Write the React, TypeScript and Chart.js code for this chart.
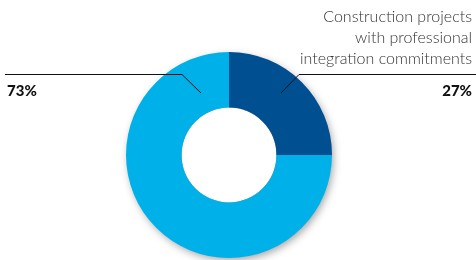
import React, { useEffect, useRef } from "react";
import { Chart, registerables } from "chart.js";

Chart.register(...registerables);

// Data
const categories = ["Construction projects with professional integration commitments", "Other construction projects"];
const sliceShares = [25, 75]; // shares as drawn in the picture
const percentLabels = ["27%", "73%"];
const calloutLines = ["Construction projects", "with professional", "integration commitments"];
const sliceColors = ["#004f91", "#00b1e9"];

const overlayPlugin = {
  id: "overlay",
  beforeDatasetsDraw(chart: any) {
    const meta = chart.getDatasetMeta(0);
    const arc = meta.data[0];
    if (!arc) return;
    const { x, y, outerRadius, innerRadius } = arc.getProps(["x", "y", "outerRadius", "innerRadius"], true);
    const ctx = chart.ctx;
    ctx.save();
    ctx.beginPath();
    ctx.rect(0, 0, chart.width, chart.height);
    ctx.arc(x, y, innerRadius, 0, Math.PI * 2);
    ctx.clip("evenodd");
    const off = 10000;
    ctx.shadowColor = "rgba(0,0,0,0.38)";
    ctx.shadowBlur = 8;
    ctx.shadowOffsetX = off + 2;
    ctx.shadowOffsetY = 3;
    ctx.fillStyle = "#000";
    ctx.beginPath();
    ctx.arc(x - off, y, outerRadius - 1, 0, Math.PI * 2);
    ctx.fill();
    ctx.restore();
  },
  afterDraw(chart: any) {
    const meta = chart.getDatasetMeta(0);
    const arc = meta.data[0];
    if (!arc) return;
    const { x, y } = arc.getProps(["x", "y"], true);
    const ctx = chart.ctx;
    const W = chart.width;
    ctx.save();
    // leader lines
    ctx.strokeStyle = "#111";
    ctx.lineWidth = 1;
    ctx.beginPath();
    ctx.moveTo(5, y - 80.5);
    ctx.lineTo(x - 47, y - 80.5);
    ctx.lineTo(x - 28, y - 62);
    ctx.stroke();
    ctx.beginPath();
    ctx.moveTo(W, y - 80.5);
    ctx.lineTo(x + 70, y - 80.5);
    ctx.lineTo(x + 52, y - 62);
    ctx.stroke();
    // percent labels
    ctx.fillStyle = "#111";
    ctx.font = "900 15px Lato, 'Open Sans', sans-serif";
    ctx.textBaseline = "alphabetic";
    ctx.textAlign = "left";
    ctx.fillText(percentLabels[1], 7, 95.5);
    ctx.textAlign = "right";
    ctx.fillText(percentLabels[0], W - 4, 95.5);
    // callout text
    ctx.fillStyle = "#333";
    ctx.font = "300 16px Lato, 'Open Sans', sans-serif";
    calloutLines.forEach((t, i) => {
      ctx.fillText(t, W - 4, 22 + i * 21);
    });
    ctx.restore();
  },
};

export default function App() {
  const ref = useRef<HTMLCanvasElement | null>(null);
  useEffect(() => {
    if (!ref.current) return;
    const chart = new Chart(ref.current, {
      type: "doughnut",
      data: {
        labels: categories,
        datasets: [
          {
            data: sliceShares,
            backgroundColor: sliceColors,
            borderWidth: 0,
            hoverOffset: 0,
          },
        ],
      },
      options: {
        animation: false,
        responsive: false,
        cutout: "46%",
        rotation: 0,
        layout: { padding: { top: 52, bottom: 2, left: 0, right: 18 } },
        plugins: { legend: { display: false }, tooltip: { enabled: false } },
      },
      plugins: [overlayPlugin],
    });
    return () => chart.destroy();
  }, []);
  return (
    <div style={{ position: "absolute", left: 0, top: 0, width: 476, height: 260, background: "#fff" }}>
      <canvas ref={ref} width={476} height={260} style={{ width: 476, height: 260, display: "block" }} />
    </div>
  );
}
